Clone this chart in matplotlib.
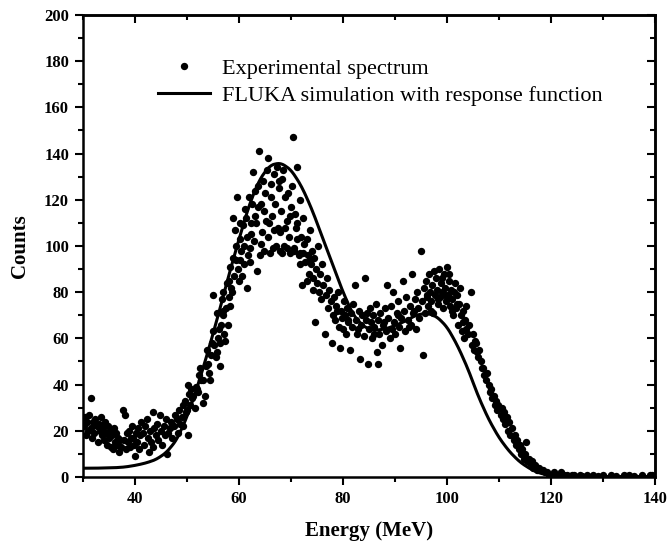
import numpy as np
import matplotlib
matplotlib.use("Agg")
import matplotlib.pyplot as plt
from matplotlib.ticker import MultipleLocator

plt.rcParams['font.family'] = ['Liberation Serif', 'DejaVu Serif']

# experimental spectrum (energy in MeV, counts)
exp_energy_low = [30.2, 30.4, 30.6, 30.8, 31.0, 31.2, 31.5, 31.6, 31.8, 32.0, 32.2, 32.4, 32.6, 32.8,
                  33.0, 33.2, 33.4, 33.6, 33.8, 34.0, 34.2, 34.4, 34.6, 34.8, 35.0, 35.2, 35.4, 35.6,
                  35.8, 36.0, 36.2, 36.4, 36.6, 36.8, 37.0, 37.2, 37.4, 37.7, 37.8, 38.0, 38.2, 38.4,
                  38.6, 38.8, 39.0, 39.2, 39.4, 39.6, 39.8, 40.0, 40.2, 40.4, 40.6, 40.8, 41.0, 41.2,
                  41.5, 41.7, 42.0, 42.3, 42.5, 42.7, 42.9, 43.1, 43.4, 43.5, 43.7, 44.0, 44.2, 44.5,
                  44.8, 45.0, 45.2, 45.5, 45.7, 46.0, 46.1, 46.4, 46.7, 47.0, 47.2, 47.5, 47.7, 48.0,
                  48.2, 48.5, 48.7, 49.0, 49.2, 49.3, 49.6, 49.8]
exp_counts_low = [22, 26, 18, 24, 20, 27, 34, 21, 17, 24, 19, 25, 22, 15,
                  23, 20, 26, 18, 21, 16, 24, 19, 14, 22, 17, 20, 13, 18,
                  12, 21, 15, 19, 14, 17, 11, 16, 13, 29, 16, 27, 12, 19,
                  15, 20, 13, 17, 22, 17, 14, 9, 19, 15, 21, 12, 18, 24,
                  19, 14, 22, 25, 17, 11, 20, 15, 28, 13, 21, 18, 23, 16,
                  27, 20, 14, 22, 18, 25, 10, 19, 21, 24, 17, 22, 27, 25,
                  19, 29, 23, 26, 22, 31, 33, 28]

exp_energy_rise = [50.0, 50.1, 50.2, 50.4, 50.6, 50.8, 51.0, 51.2, 51.5, 51.7, 51.9, 52.1, 52.3, 52.5,
                   52.7, 53.0, 53.1, 53.5, 53.7, 53.8, 54.0, 54.2, 54.4, 54.6, 54.8, 55.0, 55.0, 55.2,
                   55.5, 55.8, 55.8, 56.0, 56.3, 56.3, 56.6, 56.7, 57.0, 57.0, 57.2, 57.5, 57.7, 57.9,
                   58.0, 58.3, 58.3, 58.5, 58.7, 58.8, 59.0, 59.2, 59.4, 59.6, 59.8, 60.0, 60.2, 60.2,
                   60.4, 60.6, 60.8, 61.0, 61.2, 61.4, 61.5, 61.7, 62.0, 62.1, 62.1, 62.3, 62.5, 62.7,
                   62.9, 63.1, 63.3, 63.5, 63.7, 63.8, 64.0, 64.2, 64.4, 64.6, 64.8, 65.0, 65.2, 65.4,
                   65.6, 65.8, 66.0, 66.2, 66.4, 66.6, 66.8, 67.0, 67.3, 67.5, 67.7, 67.9, 67.9, 68.1,
                   68.3, 68.5, 68.7, 68.9, 69.2, 69.4, 69.6, 69.8]
exp_counts_rise = [29, 40, 18, 36, 31, 38, 34, 35, 30, 39, 38, 37, 44, 47,
                   42, 32, 42, 35, 48, 55, 49, 45, 42, 53, 58, 63, 79, 57,
                   52, 54, 71, 60, 58, 48, 66, 77, 70, 80, 62, 73, 84, 66,
                   78, 74, 91, 82, 80, 112, 87, 107, 94, 121, 90, 85, 103, 94,
                   98, 87, 109, 100, 116, 112, 82, 96, 121, 99, 93, 105, 118, 132,
                   102, 113, 110, 89, 126, 141, 96, 118, 106, 128, 98, 123, 111, 133,
                   138, 110, 97, 127, 113, 99, 131, 118, 134, 108, 125, 98, 106, 115,
                   129, 133, 100, 121, 111, 123, 104, 97]

exp_energy_mid = [70.0, 70.2, 70.4, 70.6, 70.8, 71.0, 71.2, 71.2, 71.5, 71.7, 71.7, 71.9, 72.1, 72.3,
                  72.5, 72.7, 73.0, 73.2, 73.4, 73.6, 73.8, 74.0, 74.2, 74.4, 74.6, 74.8, 75.0, 75.2,
                  75.4, 75.6, 75.8, 76.0, 76.2, 76.5, 76.7, 77.0, 77.2, 77.4, 77.6, 77.9, 78.1, 78.3,
                  78.5, 78.7, 79.0, 79.2, 79.4, 79.6, 79.8, 80.0, 80.2, 80.4, 80.6, 80.8, 81.0, 81.3,
                  81.5, 81.7, 82.0, 82.3, 82.5, 82.7, 83.0, 83.3, 83.5, 83.7, 84.0, 84.2, 84.4, 84.8,
                  85.0, 85.2, 85.4, 85.6, 85.8, 86.0, 86.3, 86.5, 86.7, 86.8, 87.0, 87.2, 87.5, 87.7,
                  88.0, 88.2, 88.5, 88.7, 89.0, 89.2, 89.6, 89.8, 90.0, 90.3, 90.5, 90.8, 91.0, 91.2,
                  91.5, 91.7, 92.0, 92.2, 92.5, 92.8, 93.0, 93.3, 93.5, 93.8, 94.0, 94.2, 94.4, 94.7]
exp_counts_mid = [117, 126, 147, 99, 114, 108, 134, 110, 96, 120, 97, 104, 83, 112,
                  101, 93, 103, 96, 88, 107, 92, 98, 86, 95, 67, 90, 84, 100,
                  80, 88, 77, 92, 83, 62, 79, 86, 73, 81, 76, 58, 70, 78,
                  68, 74, 80, 65, 56, 72, 69, 64, 76, 70, 62, 73, 67, 55,
                  71, 65, 75, 83, 68, 62, 72, 51, 66, 70, 61, 86, 68, 49,
                  64, 73, 67, 60, 70, 65, 75, 54, 68, 49, 62, 71, 57, 66,
                  73, 63, 83, 69, 60, 74, 80, 67, 62, 71, 76, 65, 56, 69,
                  85, 72, 63, 78, 68, 74, 66, 88, 71, 77, 64, 80, 73, 69]

exp_energy_high = [95.0, 95.2, 95.4, 95.6, 95.8, 96.0, 96.2, 96.4, 96.6, 96.8, 97.0, 97.2, 97.4, 97.6,
                   97.8, 98.0, 98.2, 98.4, 98.6, 98.8, 99.0, 99.2, 99.4, 99.6, 99.8, 100.0, 100.2, 100.4,
                   100.6, 100.8, 101.0, 101.2, 101.5, 101.7, 102.0, 102.2, 102.4, 102.6, 102.8, 103.0,
                   103.2, 103.4, 103.7, 104.0, 104.3, 104.6, 104.8, 105.0, 105.2, 105.4, 105.6, 105.8,
                   106.0, 106.2, 106.5, 106.7, 107.0, 107.2, 107.5, 107.7, 108.0, 108.2, 108.5, 108.7,
                   109.0, 109.2, 109.4, 109.6, 109.8, 110.0, 110.3, 110.5, 110.8, 111.0, 111.2, 111.5,
                   111.7, 112.0, 112.2, 112.5, 112.8, 113.0, 113.2, 113.5, 113.8, 114.0, 114.3, 114.5,
                   114.8, 115.0, 115.2, 115.4, 115.7, 116.0, 116.3, 116.6, 117.0, 117.3, 117.6, 118.0,
                   118.4, 118.8, 119.2, 119.6, 120.0, 120.5, 121.0, 121.5, 122.0, 122.5, 123.0, 124.0,
                   124.5, 125.5, 126.0, 127.0, 128.0, 129.0, 130.0, 131.5, 132.5, 134.0, 135.0, 136.0,
                   137.5, 139.0, 139.5]
exp_counts_high = [98, 76, 53, 82, 71, 85, 78, 74, 88, 80, 76, 83, 71, 79,
                   86, 81, 75, 90, 78, 84, 80, 73, 88, 82, 76, 91, 79, 85,
                   74, 81, 77, 70, 84, 73, 79, 66, 75, 70, 63, 72,
                   60, 68, 74, 62, 66, 80, 57, 62, 55, 59, 58, 54,
                   52, 55, 50, 47, 47, 44, 42, 45, 40, 37, 38, 34,
                   35, 31, 33, 29, 31, 30, 27, 30, 25, 28, 23, 26,
                   20, 24, 18, 21, 16, 18, 14, 16, 12, 14, 10, 12,
                   8, 10, 15, 7, 8, 6, 7, 4, 5, 3, 4, 3,
                   3, 2, 2, 1, 1, 2, 1, 1, 2, 1, 1, 1,
                   1, 1, 0.5, 1, 1, 0.5, 1, 1, 0.5, 1, 1, 0.5,
                   1, 1, 1]

# extra points in the crowded parts of the spectrum
exp_energy_extra = [56.1, 56.9, 57.4, 58.1, 58.9, 59.5, 60.1, 60.9, 61.6, 62.4, 63.0, 63.6, 64.3, 64.9,
                    65.5, 66.1, 66.7, 67.2, 67.6, 68.2, 68.8, 69.3, 69.9, 70.5, 71.1, 71.8, 72.4, 73.1,
                    73.7, 74.3, 78.9, 80.9, 82.8, 84.6, 85.9, 87.9, 89.4, 90.6, 92.6, 93.6, 96.1, 96.9,
                    97.5, 98.3, 99.1, 99.7, 100.3, 100.9, 101.3, 101.9, 102.5, 103.1, 103.6]
exp_counts_extra = [64, 72, 59, 85, 95, 100, 110, 92, 104, 110, 124, 117, 101, 115,
                    104, 121, 107, 100, 128, 97, 108, 99, 113, 98, 103, 92, 97, 85,
                    94, 81, 72, 68, 64, 71, 62, 67, 64, 70, 65, 72, 79, 72,
                    89, 77, 86, 79, 88, 72, 80, 75, 82, 67, 64]

# FLUKA simulation folded with the response function
sim_energy = [30, 32, 34, 36, 38, 40, 42, 44, 46, 48, 50, 52, 54, 56, 58, 60, 62, 64, 66, 68, 70,
              72, 74, 76, 78, 80, 82, 84, 86, 88, 90, 92, 94, 96, 98, 100, 102, 104, 106, 108,
              110, 112, 114, 116, 118, 120, 125, 130, 140]
sim_counts = [3.8, 3.8, 3.9, 4.0, 4.3, 5.0, 6.0, 7.5, 10.5, 16, 26, 39, 54, 70, 87, 103, 118, 129,
              135, 136, 133, 126, 116, 104, 92, 80, 70, 65, 63.5, 64, 65.5, 67.5, 70, 71, 69.5,
              65, 57, 47, 35, 25, 17, 11, 6.5, 3.5, 1.5, 0.7, 0.3, 0.2, 0.2]

exp_energy = np.array(exp_energy_low + exp_energy_rise + exp_energy_mid + exp_energy_high
                      + exp_energy_extra)
exp_counts = np.array(exp_counts_low + exp_counts_rise + exp_counts_mid + exp_counts_high
                      + exp_counts_extra)

fig = plt.figure(figsize=(6.7, 5.51), dpi=100)
ax = fig.add_axes([0.1239, 0.1343, 0.8537, 0.8385])

# smooth the simulated curve a bit for drawing
xs = np.linspace(30, 140, 600)
ys = np.interp(xs, sim_energy, sim_counts)
kern = np.ones(9) / 9
ys = np.convolve(np.pad(ys, 4, mode='edge'), kern, mode='valid')

ax.plot(exp_energy, exp_counts, 'o', color='black', markersize=5.3, markeredgewidth=0,
        label='Experimental spectrum', zorder=2)
ax.plot(xs, ys, '-', color='black', lw=2.2, label='FLUKA simulation with response function', zorder=3)

ax.set_xlim(30, 140)
ax.set_ylim(0, 200)
ax.xaxis.set_major_locator(MultipleLocator(20))
ax.xaxis.set_minor_locator(MultipleLocator(10))
ax.yaxis.set_major_locator(MultipleLocator(20))
ax.yaxis.set_minor_locator(MultipleLocator(10))

for s in ax.spines.values():
    s.set_linewidth(1.8)
ax.tick_params(which='both', direction='out', width=1.5, labelsize=12, top=False, right=False, pad=4)
ax.tick_params(which='major', length=6)
ax.tick_params(which='minor', length=3.5)
for lab in ax.get_xticklabels() + ax.get_yticklabels():
    lab.set_fontweight('bold')

# mirrored ticks pointing inward on top and right
ax_top = ax.secondary_xaxis('top')
ax_top.xaxis.set_major_locator(MultipleLocator(20))
ax_top.xaxis.set_minor_locator(MultipleLocator(10))
ax_top.tick_params(which='both', direction='in', width=1.5, labeltop=False)
ax_top.tick_params(which='major', length=6)
ax_top.tick_params(which='minor', length=3.5)
ax_top.spines['top'].set_linewidth(1.8)
ax_right = ax.secondary_yaxis('right')
ax_right.yaxis.set_major_locator(MultipleLocator(20))
ax_right.yaxis.set_minor_locator(MultipleLocator(10))
ax_right.tick_params(which='both', direction='in', width=1.5, labelright=False)
ax_right.tick_params(which='major', length=6)
ax_right.tick_params(which='minor', length=3.5)
ax_right.spines['right'].set_linewidth(1.8)

ax.set_xlabel('Energy (MeV)', fontsize=15, fontweight='bold', labelpad=10)
ax.set_ylabel('Counts', fontsize=15, fontweight='bold', labelpad=10)

ax.legend(loc='upper left', bbox_to_anchor=(0.131, 0.906), frameon=False, fontsize=16,
          handlelength=2.35, handletextpad=0.55, labelspacing=0.3, borderpad=0, borderaxespad=0,
          numpoints=1)

fig.savefig('out.png', dpi=100)
